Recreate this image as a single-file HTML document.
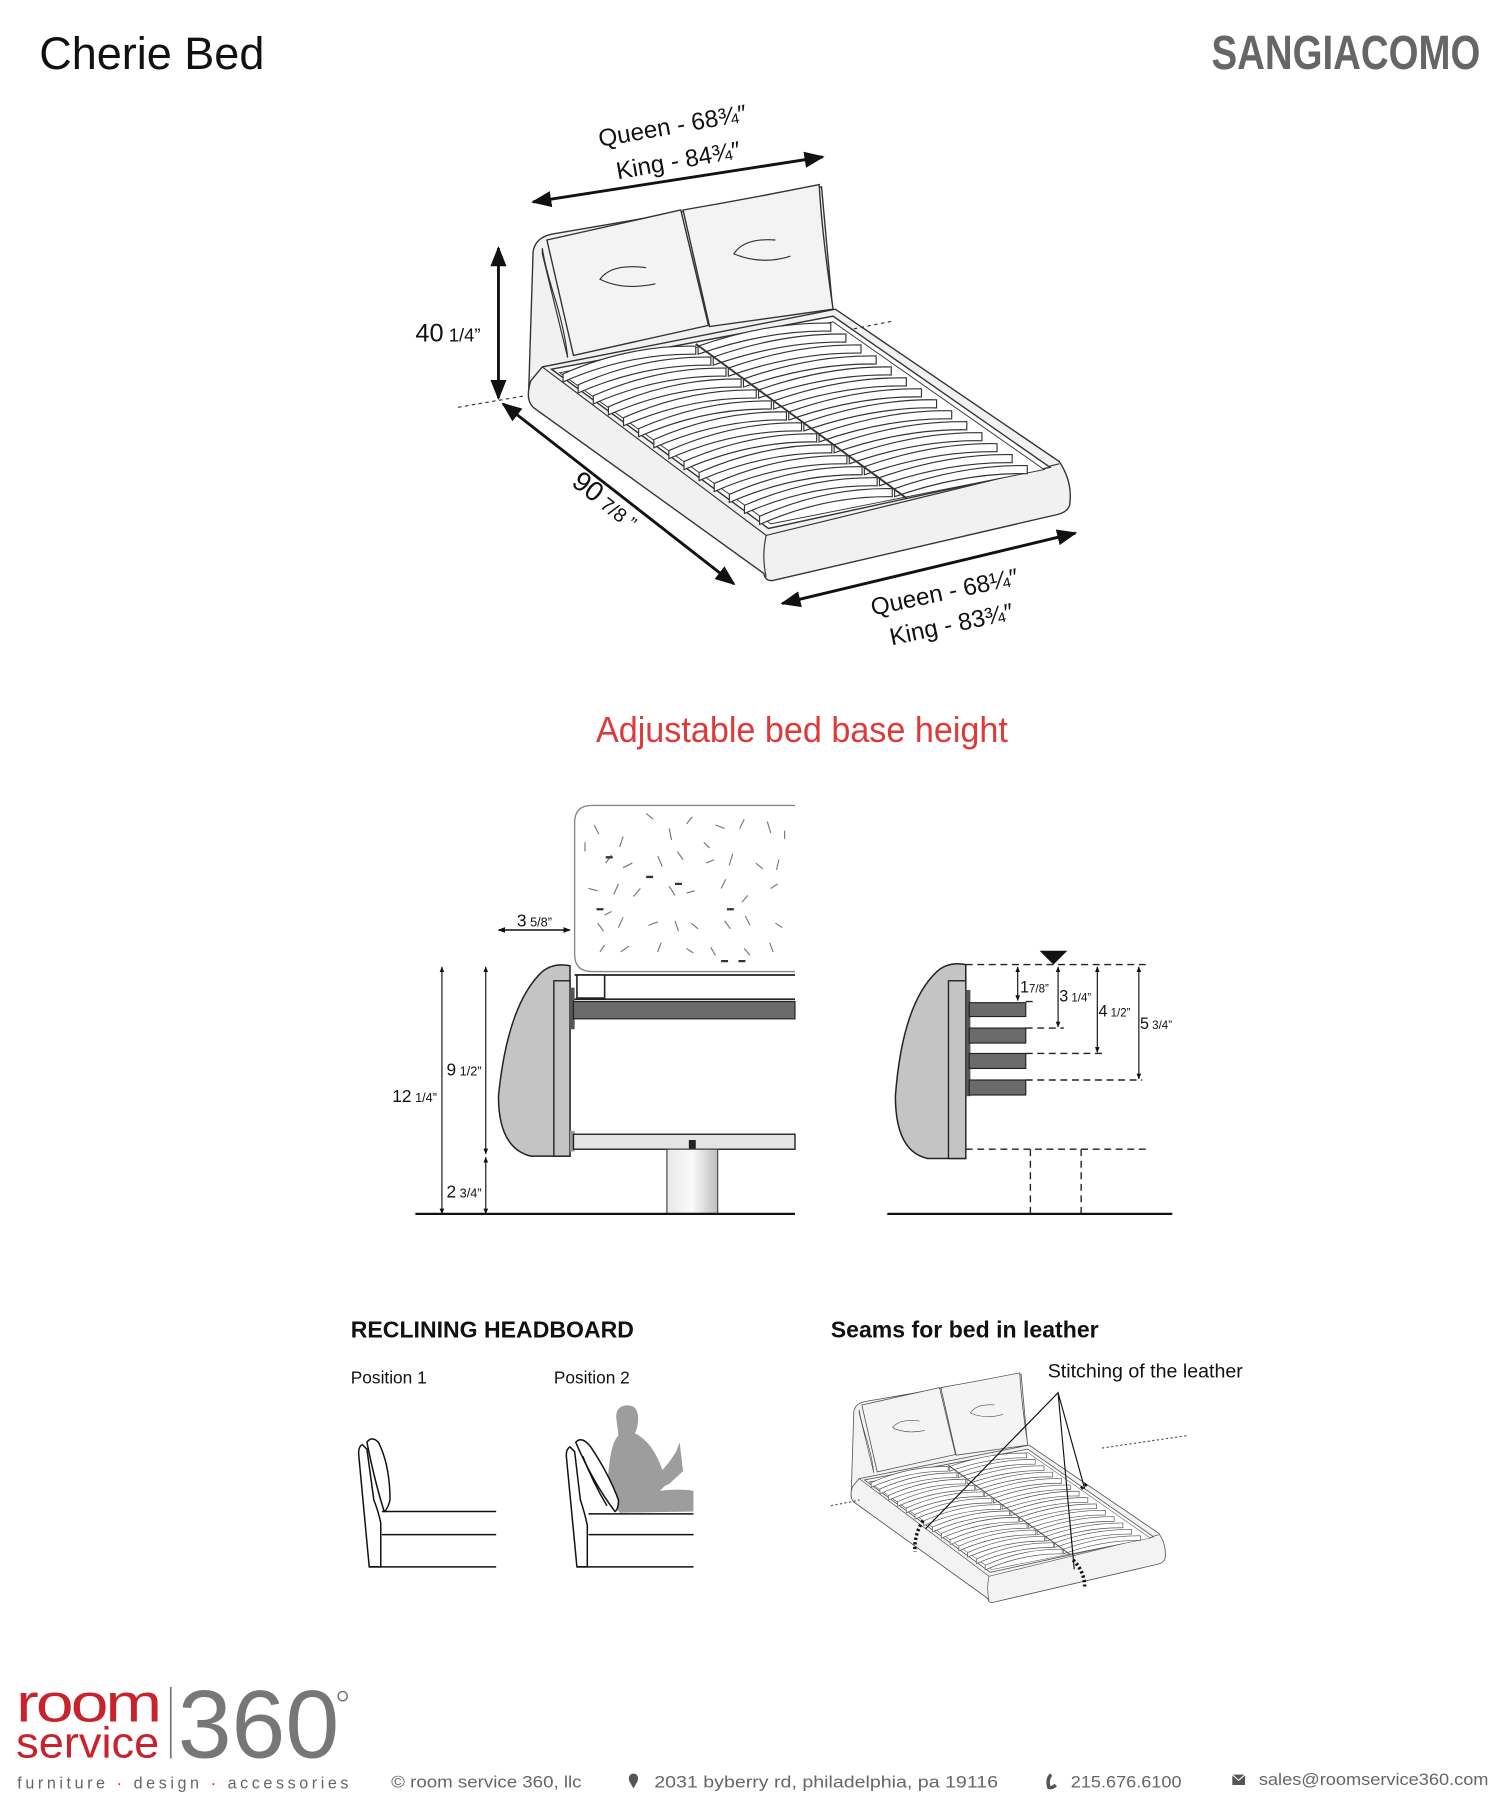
<!DOCTYPE html>
<html><head><meta charset="utf-8"><style>
html,body{margin:0;padding:0;background:#fff;}
svg{display:block;}
text{font-family:"Liberation Sans",sans-serif;}
</style></head><body>
<svg width="1500" height="1800" viewBox="0 0 1300 1560" xmlns="http://www.w3.org/2000/svg">
<defs>
<marker id="ah" viewBox="0 0 10 10" refX="9" refY="5" markerWidth="7" markerHeight="7" orient="auto-start-reverse"><path d="M0,1 L10,5 L0,9 Z" fill="#111"/></marker>
<marker id="as" viewBox="0 0 10 10" refX="9" refY="5" markerWidth="5" markerHeight="5" orient="auto-start-reverse"><path d="M0,1 L10,5 L0,9 Z" fill="#111"/></marker>
<linearGradient id="leg" x1="0" x2="1"><stop offset="0" stop-color="#e8e8e8"/><stop offset="0.5" stop-color="#fafafa"/><stop offset="1" stop-color="#bdbdbd"/></linearGradient>
<g id="slat">
<path d="M488,324 Q545,299 603,300 L603,307 Q545,306 488,331 Z" fill="#fff" stroke="#333" stroke-width="1"/>
<path d="M605,300 Q665,279 720,280 L720,287 Q665,286 605,307 Z" fill="#fff" stroke="#333" stroke-width="1"/>
</g>
<g id="bed">
<path d="M458,345 L462,218 Q464,206 478,203 L600,182 L712,162 L722,272 L472,318 Z" fill="#f1f1f1" stroke="#333" stroke-width="1.2"/>
<path d="M460,330 L470,318 L724,268 L918,400 Q930,418 927,438 Q925,444 916,446 L670,503 Q663,504 662,497 L462,353 Q455,346 460,330 Z" fill="#f1f1f1" stroke="#333" stroke-width="1.2"/>
<path d="M470,318 L664,464 L918,402" fill="none" stroke="#333" stroke-width="1"/>
<path d="M664,464 Q660,482 664,500" fill="none" stroke="#333" stroke-width="1"/>
<path d="M478,320 L722,274 L910,405 L666,458 Z" fill="#fff" stroke="#333" stroke-width="1.2"/>
<path d="M485,323 L722,279 L905,407 L668,454 Z" fill="#fff" stroke="#333" stroke-width="0.8"/>
<use href="#slat"/>
<use href="#slat" transform="translate(13.1,9.5)"/>
<use href="#slat" transform="translate(26.2,19)"/>
<use href="#slat" transform="translate(39.3,28.5)"/>
<use href="#slat" transform="translate(52.4,38)"/>
<use href="#slat" transform="translate(65.5,47.5)"/>
<use href="#slat" transform="translate(78.6,57)"/>
<use href="#slat" transform="translate(91.7,66.5)"/>
<use href="#slat" transform="translate(104.8,76)"/>
<use href="#slat" transform="translate(117.9,85.5)"/>
<use href="#slat" transform="translate(131,95)"/>
<use href="#slat" transform="translate(144.1,104.5)"/>
<use href="#slat" transform="translate(157.2,114)"/>
<use href="#slat" transform="translate(170.3,123.5)"/>
<path d="M603,298 L786,432" stroke="#333" stroke-width="1.6" fill="none"/>
<path d="M470,215 Q472,230 482,262 Q490,290 492,310 L470,220 Z" fill="#f1f1f1" stroke="#333" stroke-width="1"/>
<path d="M474,208 L590,182 L614,282 L497,308 Z" fill="#f3f3f3" stroke="#333" stroke-width="1.2"/>
<path d="M592,182 Q650,172 710,160 Q712,200 722,268 L615,283 Z" fill="#f3f3f3" stroke="#333" stroke-width="1.2"/>
<path d="M560,232 Q530,228 520,242 Q540,252 568,246" fill="none" stroke="#333" stroke-width="1"/>
<path d="M672,208 Q645,206 636,220 Q660,230 685,222" fill="none" stroke="#333" stroke-width="1"/>
</g>
</defs>

<text x="34" y="60" font-size="39" fill="#111">Cherie Bed</text>
<text x="1283" y="60" font-size="42" font-weight="bold" fill="#666" text-anchor="end" textLength="233" lengthAdjust="spacingAndGlyphs">SANGIACOMO</text>

<use href="#bed"/>
<line x1="397" y1="353" x2="455" y2="343" stroke="#333" stroke-dasharray="3,3"/>
<line x1="740" y1="285" x2="775" y2="278" stroke="#333" stroke-dasharray="3,3"/>
<line x1="462" y1="175" x2="713" y2="136" stroke="#111" stroke-width="2.5" marker-start="url(#ah)" marker-end="url(#ah)"/>
<line x1="432" y1="215" x2="432" y2="345" stroke="#111" stroke-width="2.5" marker-start="url(#ah)" marker-end="url(#ah)"/>
<line x1="436" y1="350" x2="636" y2="506" stroke="#111" stroke-width="2.5" marker-start="url(#ah)" marker-end="url(#ah)"/>
<line x1="678" y1="523" x2="932" y2="462" stroke="#111" stroke-width="2.5" marker-start="url(#ah)" marker-end="url(#ah)"/>
<text x="584" y="116" font-size="21" fill="#111" text-anchor="middle" transform="rotate(-10 584 116)">Queen - 68¾″</text>
<text x="589" y="146" font-size="21" fill="#111" text-anchor="middle" transform="rotate(-10 589 146)">King - 84¾″</text>
<text x="360" y="296" font-size="22" fill="#111">40<tspan font-size="16"> 1/4”</tspan></text>
<text x="520" y="440" font-size="24" fill="#111" text-anchor="middle" transform="rotate(38 520 440)">90<tspan font-size="17"> 7/8 ”</tspan></text>
<text x="820" y="520" font-size="21" fill="#111" text-anchor="middle" transform="rotate(-12 820 520)">Queen - 68¼″</text>
<text x="826" y="548" font-size="21" fill="#111" text-anchor="middle" transform="rotate(-12 826 548)">King - 83¾″</text>

<text x="695" y="643" font-size="31" fill="#dd3a3a" text-anchor="middle" textLength="357" lengthAdjust="spacingAndGlyphs">Adjustable bed base height</text>

<path d="M689,698 L513,698 Q498,698 498,713 L498,827 Q498,842 513,842 L689,842" fill="#fff" stroke="#888" stroke-width="1.2"/>
<g stroke="#777" stroke-width="1">
<path d="M515,715 l4,8 M540,725 l-3,9 M560,705 l6,5 M580,718 l2,10 M600,708 l-5,6 M620,715 l8,3 M645,710 l-4,8 M665,712 l3,10 M525,748 l5,-7 M548,748 l-8,4 M570,742 l4,9 M592,745 l-5,-7 M612,748 l7,-3 M635,740 l-3,10 M655,748 l6,5 M675,745 l-2,9 M510,770 l8,2 M532,775 l4,-9 M555,770 l-6,7 M580,768 l5,8 M602,772 l-7,2 M625,770 l4,-8 M648,776 l-5,6 M668,770 l6,-4 M518,800 l5,7 M540,795 l-4,9 M562,802 l8,-3 M585,798 l3,9 M605,805 l-6,-5 M628,798 l5,7 M650,802 l-4,-8 M672,800 l6,4 M520,825 l4,-6 M545,820 l-7,5 M570,825 l3,-8 M595,822 l6,4 M620,828 l-4,-7 M645,822 l5,6 M670,825 l-3,-8 M507,730 l0,8 M680,720 l0,7 M530,790 l-6,3 M610,730 l5,5"/>
</g>
<g stroke="#333" stroke-width="2"><path d="M525,743 h6 M560,760 h6 M585,766 h6 M517,788 h6 M630,788 h6 M625,833 h6 M640,833 h6"/></g>
<path d="M494,837 Q480,834 470,842 Q440,870 432,950 Q432,995 460,1002 L494,1002 Z" fill="#c4c4c4" stroke="#222" stroke-width="1.3"/>
<rect x="480" y="850" width="14" height="152" fill="#c4c4c4" stroke="#222" stroke-width="1.2"/>
<rect x="494" y="856" width="4" height="36" fill="#555"/>
<rect x="494" y="980" width="4" height="18" fill="#999"/>
<line x1="498" y1="845" x2="689" y2="845" stroke="#222" stroke-width="1.5"/>
<rect x="500" y="845" width="24" height="20" fill="#fff" stroke="#222" stroke-width="1.4"/>
<line x1="498" y1="866" x2="689" y2="866" stroke="#222" stroke-width="1.5"/>
<rect x="497" y="868" width="192" height="15" fill="#6b6b6b" stroke="#222" stroke-width="1"/>
<rect x="497" y="983" width="192" height="13" fill="#e4e4e4" stroke="#222" stroke-width="1.2"/>
<rect x="597" y="988" width="6" height="8" fill="#222"/>
<rect x="578" y="996" width="44" height="56" fill="url(#leg)" stroke="#444" stroke-width="1"/>
<line x1="360" y1="1052" x2="689" y2="1052" stroke="#111" stroke-width="2"/>
<line x1="383" y1="838" x2="383" y2="1052" stroke="#111" stroke-width="1" marker-start="url(#as)" marker-end="url(#as)"/>
<line x1="421" y1="838" x2="421" y2="1000" stroke="#111" stroke-width="1" marker-start="url(#as)" marker-end="url(#as)"/>
<line x1="421" y1="1003" x2="421" y2="1052" stroke="#111" stroke-width="1" marker-start="url(#as)" marker-end="url(#as)"/>
<line x1="432" y1="806" x2="494" y2="806" stroke="#111" stroke-width="1.3" marker-start="url(#as)" marker-end="url(#as)"/>
<text x="340" y="955" font-size="15" fill="#111">12<tspan font-size="11"> 1/4”</tspan></text>
<text x="387" y="932" font-size="15" fill="#111">9<tspan font-size="11"> 1/2”</tspan></text>
<text x="387" y="1038" font-size="15" fill="#111">2<tspan font-size="11"> 3/4”</tspan></text>
<text x="448" y="803" font-size="15" fill="#111">3<tspan font-size="11"> 5/8”</tspan></text>

<path d="M837,836 Q822,833 812,842 Q782,870 776,950 Q776,998 804,1004 L837,1004 Z" fill="#c4c4c4" stroke="#222" stroke-width="1.3"/>
<rect x="822" y="850" width="15" height="154" fill="#c4c4c4" stroke="#222" stroke-width="1.2"/>
<rect x="837" y="858" width="4" height="92" fill="#555"/>
<rect x="840" y="869" width="49" height="12" fill="#6b6b6b" stroke="#222"/>
<rect x="840" y="891" width="49" height="13" fill="#6b6b6b" stroke="#222"/>
<rect x="840" y="913" width="49" height="13" fill="#6b6b6b" stroke="#222"/>
<rect x="840" y="936" width="49" height="13" fill="#6b6b6b" stroke="#222"/>
<g stroke="#222" stroke-width="1.2" stroke-dasharray="6,4" fill="none">
<path d="M837,836 H995 M889,868 H898 M889,891 H922 M889,913 H956 M889,936 H990 M837,996 H995 M893,996 V1052 M937,996 V1052"/>
</g>
<path d="M901,824 L925,824 L913,836 Z" fill="#111"/>
<line x1="882" y1="838" x2="882" y2="867" stroke="#111" marker-start="url(#as)" marker-end="url(#as)"/>
<line x1="917" y1="838" x2="917" y2="890" stroke="#111" marker-start="url(#as)" marker-end="url(#as)"/>
<line x1="951" y1="838" x2="951" y2="912" stroke="#111" marker-start="url(#as)" marker-end="url(#as)"/>
<line x1="987" y1="838" x2="987" y2="935" stroke="#111" marker-start="url(#as)" marker-end="url(#as)"/>
<line x1="769" y1="1052" x2="1016" y2="1052" stroke="#111" stroke-width="2"/>
<text x="884" y="860" font-size="14" fill="#111">1<tspan font-size="10">7/8”</tspan></text>
<text x="918" y="868" font-size="14" fill="#111">3<tspan font-size="10"> 1/4”</tspan></text>
<text x="952" y="881" font-size="14" fill="#111">4<tspan font-size="10"> 1/2”</tspan></text>
<text x="988" y="892" font-size="14" fill="#111">5<tspan font-size="10"> 3/4”</tspan></text>

<text x="304" y="1159" font-size="20" font-weight="bold" fill="#111">RECLINING HEADBOARD</text>
<text x="304" y="1199" font-size="15" fill="#111">Position 1</text>
<text x="480" y="1199" font-size="15" fill="#111">Position 2</text>
<text x="720" y="1159" font-size="20" font-weight="bold" fill="#111">Seams for bed in leather</text>
<text x="908" y="1194" font-size="17" fill="#111">Stitching of the leather</text>

<g fill="#fff" stroke="#111" stroke-width="1.3">
<path d="M314,1252 Q310,1254 311,1262 L320,1358 L330,1358 L330,1320 Q328,1310 324,1300 L318,1256 Z"/>
<path d="M318,1250 Q322,1244 328,1250 Q338,1270 338,1300 Q336,1308 333,1310 Q325,1285 318,1250 Z"/>
<path d="M331,1310 L430,1310 M331,1330 L430,1330 M320,1358 L430,1358"/>
</g>
<g transform="translate(14,0)">
<path d="M520,1228 Q520,1218 530,1218 Q540,1218 539,1232 Q538,1240 536,1242 Q552,1250 560,1274 Q566,1268 572,1258 L575,1250 L578,1275 L566,1286 L562,1288 L558,1292 Q575,1290 587,1292 L587,1310 L523,1311 Q510,1292 514,1270 Q516,1250 522,1244 Z" fill="#9d9d9d"/>
<g fill="#fff" stroke="#111" stroke-width="1.3">
<path d="M480,1254 Q476,1256 477,1264 L486,1358 L495,1358 L495,1322 Q493,1312 489,1300 L484,1258 Z"/>
<path d="M485,1250 Q490,1244 498,1254 Q514,1278 522,1300 Q522,1308 519,1310 Q500,1285 485,1250 Z"/>
<path d="M491,1262 Q500,1285 512,1305" fill="none"/>
<path d="M496,1312 L587,1312 M496,1330 L587,1330 M486,1358 L587,1358"/>
</g>
</g>

<g transform="translate(472,1097) scale(0.58)" opacity="0.85">
<use href="#bed"/>
</g>
<line x1="720" y1="1305" x2="745" y2="1300" stroke="#555" stroke-dasharray="2,2"/>
<line x1="955" y1="1255" x2="1030" y2="1244" stroke="#555" stroke-dasharray="2,2"/>
<g stroke="#111" stroke-width="1" fill="none">
<path d="M802,1325 L917,1207 L931,1360 M917,1207 L940,1290"/>
</g>
<g stroke="#111" stroke-width="3" stroke-dasharray="2,2" fill="none">
<path d="M800,1318 Q792,1330 793,1345"/>
<path d="M930,1352 Q940,1362 940,1375"/>
<path d="M937,1290 L942,1286"/>
</g>

<text x="14" y="1492" font-size="47" fill="#c8232c" textLength="124" lengthAdjust="spacingAndGlyphs" style="letter-spacing:-2px">room</text>
<text x="14" y="1523" font-size="38" fill="#c8232c" textLength="124" lengthAdjust="spacingAndGlyphs">service</text>
<line x1="148" y1="1462" x2="148" y2="1524" stroke="#777" stroke-width="1.5"/>
<text x="154" y="1523" font-size="84" fill="#777" textLength="140" lengthAdjust="spacingAndGlyphs" style="font-weight:300">360</text>
<circle cx="297" cy="1470" r="4" fill="none" stroke="#777" stroke-width="1.3"/>
<g font-size="14" fill="#666">
<text x="15" y="1550" textLength="287" lengthAdjust="spacing">furniture <tspan fill="#c8232c">·</tspan> design <tspan fill="#c8232c">·</tspan> accessories</text>
<text x="339" y="1549" textLength="165" lengthAdjust="spacingAndGlyphs">© room service 360, llc</text>
<text x="567" y="1549" textLength="298" lengthAdjust="spacingAndGlyphs">2031 byberry rd, philadelphia, pa 19116</text>
<text x="928" y="1549" textLength="96" lengthAdjust="spacingAndGlyphs">215.676.6100</text>
<text x="1091" y="1547" textLength="199" lengthAdjust="spacingAndGlyphs">sales@roomservice360.com</text>
</g>
<circle cx="549" cy="1541" r="4" fill="#555"/><path d="M545,1543 L549,1550 L553,1543 Z" fill="#555"/>
<path d="M911,1538 Q907,1542 909,1549 Q912,1550 915,1547" fill="none" stroke="#555" stroke-width="3"/>
<rect x="1068" y="1538" width="11" height="9" fill="#555"/><path d="M1068,1538 L1073.5,1543 L1079,1538" stroke="#fff" fill="none" stroke-width="1"/>
</svg>
</body></html>
